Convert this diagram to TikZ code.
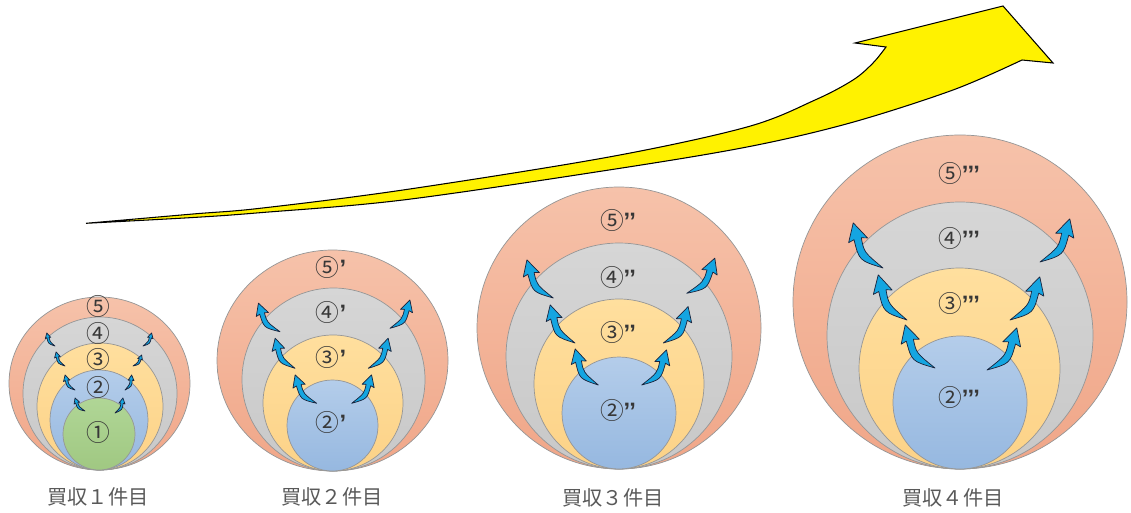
\documentclass[tikz,border=0pt]{standalone}
\usepackage{fontspec}
\newfontfamily\jpf{Noto Sans CJK JP}
\newfontfamily\latf{Liberation Sans}
\definecolor{cft}{RGB}{246,194,170}
\definecolor{cfb}{RGB}{240,166,136}
\definecolor{cgt}{RGB}{214,214,214}
\definecolor{cgb}{RGB}{200,200,200}
\definecolor{cyt}{RGB}{255,223,158}
\definecolor{cyb}{RGB}{252,210,135}
\definecolor{cbt}{RGB}{180,205,234}
\definecolor{cbb}{RGB}{150,184,224}
\definecolor{cnt}{RGB}{176,214,150}
\definecolor{cnb}{RGB}{160,200,130}
\definecolor{ringline}{RGB}{150,150,150}
\definecolor{arrfill}{RGB}{20,165,225}
\definecolor{arrline}{RGB}{25,35,60}
\definecolor{labtext}{RGB}{55,55,55}
\definecolor{captext}{RGB}{89,89,89}
\newcommand\carr[5]{%
  \pgfmathsetmacro\cax{#3-#1}%
  \pgfmathsetmacro\cay{#4-#2}%
  \pgfmathsetmacro\cab{-1*(\cay)}%
  \pgfmathsetmacro\cac{-1*(#5)*(\cay)}%
  \pgfmathsetmacro\cad{-1*(#5)*(\cax)}%
  \begin{scope}[shift={(#1,#2)}, cm={\cax,\cab,\cac,\cad,(0,0)}]
    \path[barrow] (0,0) .. controls (0.36,0.29) .. (0.733,0.156) -- (0.742,0.270)
      -- (1,-0.005) -- (0.622,-0.070) -- (0.687,0.024) .. controls (0.44,0.13) .. (0,0) -- cycle;
  \end{scope}}
\newcommand\qm[1]{{\latf\bfseries #1}}
\begin{document}
\begin{tikzpicture}[x=0.02cm,y=-0.02cm,
  ring/.style={draw=ringline, line width=0.4pt},
  r5/.style={ring, top color=cft, bottom color=cfb},
  r4/.style={ring, top color=cgt, bottom color=cgb},
  r3/.style={ring, top color=cyt, bottom color=cyb},
  r2/.style={ring, top color=cbt, bottom color=cbb},
  r1/.style={ring, top color=cnt, bottom color=cnb},
  barrow/.style={fill=arrfill, draw=arrline, line width=0.4pt, line join=round},
  yarrow/.style={fill=yellow, draw=black, line width=0.6pt, line join=miter},
  lab/.style={font=\jpf\fontsize{13.5}{15}\selectfont, text=labtext, inner sep=0pt},
  captxt/.style={font=\jpf\fontsize{11.5}{13}\selectfont, text=captext, inner sep=0pt}
]
\useasboundingbox (0,0) rectangle (1131,513);

% yellow growth arrow
\path[yarrow] plot[smooth, tension=0.55] coordinates {(86,223.3) (193,217.5) (260,212.7) (403,200) (609,170) (747,147) (850,123) (953,90) (1022,60)}
  -- (1053,63) -- (1003,6) -- (855,43)
  -- plot[smooth, tension=0.55] coordinates {(886,47) (873,63) (853,80) (815,100) (747,127) (609,157) (403,190) (260,208.3) (193,214) (86,223.3)} -- cycle;

% group 1
\shade[r5] (99.5,383.5) ellipse [x radius=90.5, y radius=86.5];
\shade[r4] (100,393.5) ellipse [x radius=77, y radius=76.5];
\shade[r3] (100,406.5) ellipse [x radius=63, y radius=63.5];
\shade[r2] (99,420) ellipse [x radius=49, y radius=50];
\shade[r1] (99,434) ellipse [x radius=36, y radius=36];
\carr{85}{411}{75}{398}{1}
\carr{75}{390}{65}{375}{1}
\carr{65}{366}{56}{352}{1}
\carr{55}{346}{46.7}{333}{1}
\carr{115}{413}{123}{398}{-1}
\carr{125}{390}{131.7}{375}{-1}
\carr{133}{366}{141.7}{355}{-1}
\carr{143}{346}{151.7}{333}{-1}
\node[lab] (g1n5) at (98,306) {⑤};
\node[lab] (g1n4) at (98,333) {④};
\node[lab] (g1n3) at (98,359) {③};
\node[lab] (g1n2) at (98,387) {②};
\node[lab] (g1n1) at (98,432) {①};
\node[captxt] (cap1) at (98,497) {買収１件目};

% group 2
\shade[r5] (332.5,360.5) ellipse [x radius=115.5, y radius=110.5];
\shade[r4] (333.5,379.5) ellipse [x radius=91.5, y radius=91.5];
\shade[r3] (333,403) ellipse [x radius=70, y radius=68];
\shade[r2] (332.5,425.5) ellipse [x radius=45.5, y radius=45.5];
\carr{316.7}{403.3}{295}{375}{1}
\carr{295}{368.3}{275}{338.3}{1}
\carr{280}{331.7}{258.3}{303.3}{1}
\carr{351.7}{403.3}{371.7}{375}{-1}
\carr{368.3}{368.3}{388.3}{338.3}{-1}
\carr{390}{328.3}{410}{300}{-1}
\node[lab] (g2n5) at (331,267) {⑤\qm{’}};
\node[lab] (g2n4) at (331,312) {④\qm{’}};
\node[lab] (g2n3) at (331,357) {③\qm{’}};
\node[lab] (g2n2) at (331,422) {②\qm{’}};
\node[captxt] (cap2) at (332,497) {買収２件目};

% group 3
\shade[r5] (619,328) ellipse [x radius=142, y radius=141];
\shade[r4] (619,356) ellipse [x radius=113, y radius=113];
\shade[r3] (619,384) ellipse [x radius=85, y radius=85];
\shade[r2] (619,413) ellipse [x radius=57, y radius=56];
\carr{598.3}{385}{575}{349}{1}
\carr{575}{343}{550}{305}{1}
\carr{553.3}{298}{526.7}{260}{1}
\carr{641.7}{385}{666.7}{350}{-1}
\carr{663.3}{343}{688.3}{306.7}{-1}
\carr{686.7}{293.3}{715}{258.3}{-1}
\node[lab] (g3n5) at (618,220) {⑤\qm{’’}};
\node[lab] (g3n4) at (618,277) {④\qm{’’}};
\node[lab] (g3n3) at (618,332) {③\qm{’’}};
\node[lab] (g3n2) at (618,410) {②\qm{’’}};
\node[captxt] (cap3) at (613,498) {買収３件目};

% group 4
\shade[r5] (960,302) ellipse [x radius=167, y radius=167];
\shade[r4] (960,335.5) ellipse [x radius=133, y radius=133.5];
\shade[r3] (959.5,368.5) ellipse [x radius=100.5, y radius=100.5];
\shade[r2] (960,402.5) ellipse [x radius=67, y radius=66.5];
\carr{935}{368}{905}{325}{1}
\carr{907}{320}{878}{275}{1}
\carr{883}{268}{853}{223}{1}
\carr{987}{370}{1017}{328}{-1}
\carr{1010}{320}{1040}{277}{-1}
\carr{1040}{262}{1070}{219}{-1}
\node[lab] (g4n5) at (959,173) {⑤\qm{’’’}};
\node[lab] (g4n4) at (959,238) {④\qm{’’’}};
\node[lab] (g4n3) at (959,303) {③\qm{’’’}};
\node[lab] (g4n2) at (959,397) {②\qm{’’’}};
\node[captxt] (cap4) at (953,498) {買収４件目};
\end{tikzpicture}
\end{document}
